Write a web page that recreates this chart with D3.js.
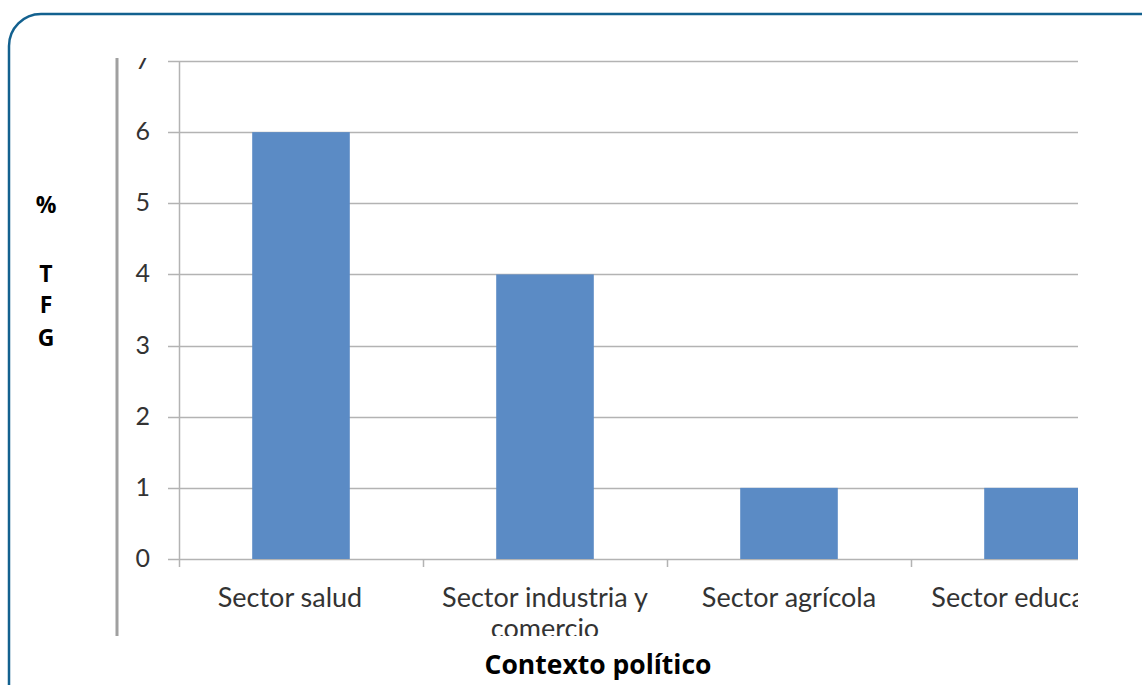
<!DOCTYPE html>
<html><head><meta charset="utf-8">
<script src="https://cdn.jsdelivr.net/npm/d3@7"></script>
<style>html,body{margin:0;padding:0;background:#fff;}svg{display:block;font-family:Lato,"Open Sans",sans-serif;}</style>
</head><body>
<svg id="c" width="1142" height="685"></svg>
<script>
const categories = ["Sector salud", "Sector industria y comercio", "Sector agrícola", "Sector educación"];
const values = [6, 4, 1, 1];
const yTicks = [0, 1, 2, 3, 4, 5, 6, 7];
const xTitle = "Contexto político";
const yTitle = ["%", "", "T", "F", "G"];

const svg = d3.select("#c");
// frame
svg.append("rect").attr("x", 9).attr("y", 14).attr("width", 1180).attr("height", 720)
  .attr("rx", 32).attr("fill", "none").attr("stroke", "#13618f").attr("stroke-width", 2.5);

// clip region
svg.append("defs").append("clipPath").attr("id", "clip")
  .append("rect").attr("x", 116).attr("y", 58).attr("width", 962).attr("height", 578);

// gray vertical bar (chart area left edge)
svg.append("line").attr("x1", 117).attr("x2", 117).attr("y1", 58).attr("y2", 636)
  .attr("stroke", "#a0a0a0").attr("stroke-width", 3);

const g = svg.append("g").attr("clip-path", "url(#clip)");

const x = d3.scaleBand().domain(categories).range([179, 1155]).paddingInner(0).paddingOuter(0);
const y = d3.scaleLinear().domain([0, 7]).range([559, 61]);

// gridlines
g.selectAll("line.grid").data(yTicks).join("line").attr("class", "grid")
  .attr("x1", 168).attr("x2", 1155)
  .attr("y1", d => Math.round(y(d)) + 0.5).attr("y2", d => Math.round(y(d)) + 0.5)
  .attr("stroke", "#b3b3b3").attr("stroke-width", 1.5);

// y axis line
g.append("line").attr("x1", 179.5).attr("x2", 179.5).attr("y1", y(7)).attr("y2", 567)
  .attr("stroke", "#b3b3b3").attr("stroke-width", 1.5);

// x category ticks
g.selectAll("line.xt").data(categories.slice(1)).join("line").attr("class", "xt")
  .attr("x1", d => Math.round(x(d)) + 0.5).attr("x2", d => Math.round(x(d)) + 0.5)
  .attr("y1", 559).attr("y2", 567).attr("stroke", "#b3b3b3").attr("stroke-width", 1.5);

// bars
const bw = x.bandwidth() * 0.4;
g.selectAll("rect.bar").data(values).join("rect").attr("class", "bar")
  .attr("x", (d, i) => x(categories[i]) + (x.bandwidth() - bw) / 2)
  .attr("width", bw)
  .attr("y", d => y(d)).attr("height", d => y(0) - y(d))
  .attr("fill", "#5b8bc5");

// y tick labels
g.selectAll("text.yt").data(yTicks).join("text").attr("class", "yt")
  .attr("x", 150).attr("y", d => y(d) + 8)
  .attr("text-anchor", "end").attr("font-size", 25).attr("fill", "#333")
  .text(d => d);

// x labels (wrapped)
const wrapped = [["Sector salud"], ["Sector industria y", "comercio"], ["Sector agrícola"], ["Sector educación"]];
const labelShift = [-11, 0, 0, 0];
categories.forEach((c, i) => {
  const cx = x(c) + x.bandwidth() / 2 + labelShift[i];
  const t = g.append("text").attr("x", cx).attr("y", 607)
    .attr("text-anchor", "middle").attr("font-size", 27).attr("fill", "#333");
  wrapped[i].forEach((ln, j) => t.append("tspan").attr("x", cx).attr("dy", j ? 31 : 0).text(ln));
});

// x title
svg.append("text").attr("x", 598).attr("y", 674).attr("text-anchor", "middle")
  .attr("font-family", "'Open Sans', sans-serif")
  .attr("font-size", 26.5).attr("font-weight", "bold").attr("fill", "#000").text(xTitle);

// y title (stacked letters)
const yPos = [213, 248, 282, 313, 346];
yTitle.forEach((ch, i) => {
  if (!ch) return;
  svg.append("text").attr("x", 46).attr("y", yPos[i]).attr("text-anchor", "middle")
    .attr("font-family", "'Open Sans', sans-serif")
    .attr("font-size", 23).attr("font-weight", "bold").attr("fill", "#000").text(ch);
});
</script>
</body></html>
